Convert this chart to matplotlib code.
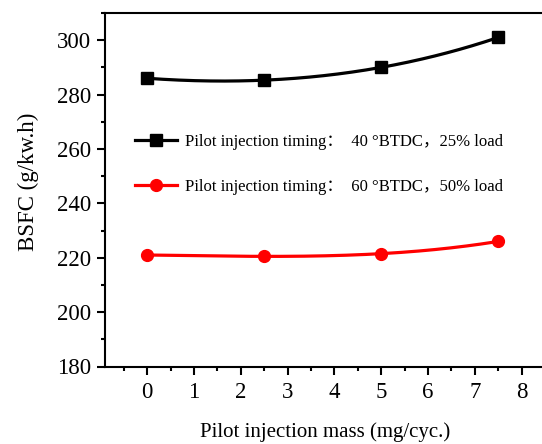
import numpy as np
import matplotlib.pyplot as plt
from matplotlib.ticker import MultipleLocator

# Data
mass = [0, 2.5, 5, 7.5]
bsfc_40 = [286.0, 285.3, 290.0, 301.0]
bsfc_60 = [221.0, 220.5, 221.5, 226.0]
labels = ['Pilot injection timing：  40 °BTDC，25% load',
          'Pilot injection timing：  60 °BTDC，50% load']

serif = ['Liberation Serif', 'Noto Sans CJK SC', 'DejaVu Sans']
plt.rcParams['font.family'] = serif

fig = plt.figure(figsize=(5.42, 4.44), dpi=100)
ax = fig.add_axes([105 / 542, 77.5 / 444, 440 / 542, 353.5 / 444])


def smooth(x, y):
    # cubic curve through the measured points, like Origin's spline connector
    c = np.polyfit(x, y, len(x) - 1)
    xs = np.linspace(x[0], x[-1], 200)
    return xs, np.polyval(c, xs)


for y, col, mk, lab in [(bsfc_40, 'black', 's', labels[0]),
                        (bsfc_60, 'red', 'o', labels[1])]:
    xs, ys = smooth(mass, y)
    ax.plot(xs, ys, color=col, lw=2.3)
    ax.plot(mass, y, color=col, lw=0, marker=mk, markersize=8.5)
    ax.plot([], [], color=col, lw=2.3, marker=mk, markersize=8.5, label=lab)

ax.set_xlim(-0.9, 8.5)
ax.set_ylim(180, 310)
ax.xaxis.set_major_locator(MultipleLocator(1))
ax.xaxis.set_minor_locator(MultipleLocator(0.5))
ax.yaxis.set_minor_locator(MultipleLocator(10))
ax.set_yticks([180, 200, 220, 240, 260, 280, 300])

for s in ['left', 'bottom', 'top', 'right']:
    ax.spines[s].set_linewidth(1.5)
ax.tick_params(which='major', direction='out', length=6, width=1.5, labelsize=16.5)
ax.tick_params(axis='y', which='major', pad=4)
ax.tick_params(axis='x', which='major', pad=5)
ax.tick_params(which='minor', direction='out', length=3, width=1.5)

ax.set_xlabel('Pilot injection mass (mg/cyc.)', fontsize=15, labelpad=14)
ax.set_ylabel('BSFC (g/kw.h)', fontsize=16.5)
ax.yaxis.set_label_coords(-0.15, 0.523)

ax.legend(loc='upper left', bbox_to_anchor=(0.035, 0.70), frameon=False,
          fontsize=12, handlelength=2.5, labelspacing=1.75, handletextpad=0.5)

fig.savefig('out.png', dpi=100)
